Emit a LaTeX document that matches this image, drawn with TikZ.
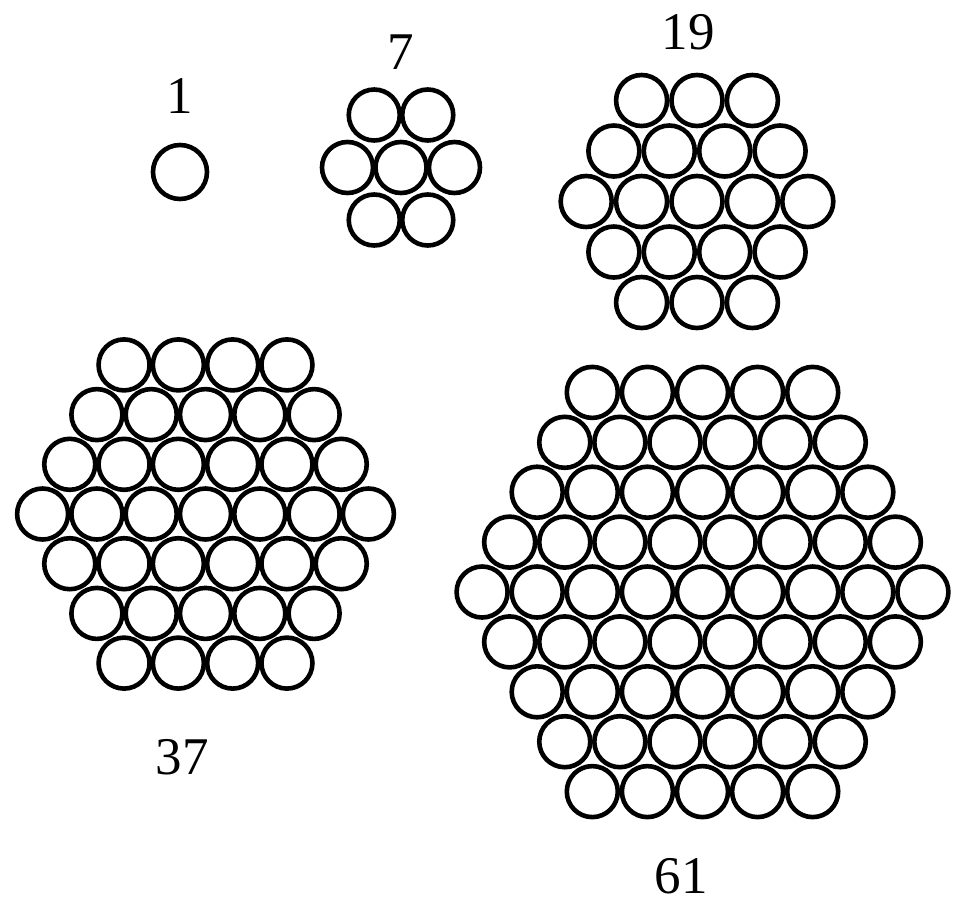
\documentclass[tikz,border=0pt]{standalone}
\usepackage{fontspec}
\setmainfont{Liberation Serif}
\newcommand{\hexpack}[5]{% cx, cy, k, dx, dy
  \foreach \r in {-#3,...,#3}{
    \pgfmathtruncatemacro{\nn}{2*#3 - abs(\r)}
    \foreach \i in {0,...,\nn}{
      \draw[wire] ({#1 + (\i - \nn/2)*#4}, {#2 + \r*#5}) circle[radius=25.5pt];
    }
  }
}
\begin{document}
\begin{tikzpicture}[x={(1pt,0)}, y={(0,-1pt)},
  wire/.style={line width=4.6pt, draw=black},
  lbl/.style={font=\fontsize{53}{60}\selectfont, inner sep=0pt, anchor=center}]
\useasboundingbox (0,0) rectangle (955,903);
\fill[white] (0,0) rectangle (955,903);
% single
\draw[wire] (180,172) circle[radius=27pt];
\node[lbl] (l1) at (180,96) {1};
% 7
\hexpack{401}{167.5}{1}{53.5}{52.5}
\node[lbl] (l7) at (401,52) {7};
% 19
\hexpack{697}{201.5}{2}{55.4}{50.5}
\node[lbl] (l19) at (688,32) {19};
% 37
\hexpack{205.5}{514}{3}{54.3}{49.7}
\node[lbl] (l37) at (182,757) {37};
% 61
\hexpack{702.5}{592}{4}{55.1}{49.9}
\node[lbl] (l61) at (681,876) {61};
\end{tikzpicture}
\end{document}
